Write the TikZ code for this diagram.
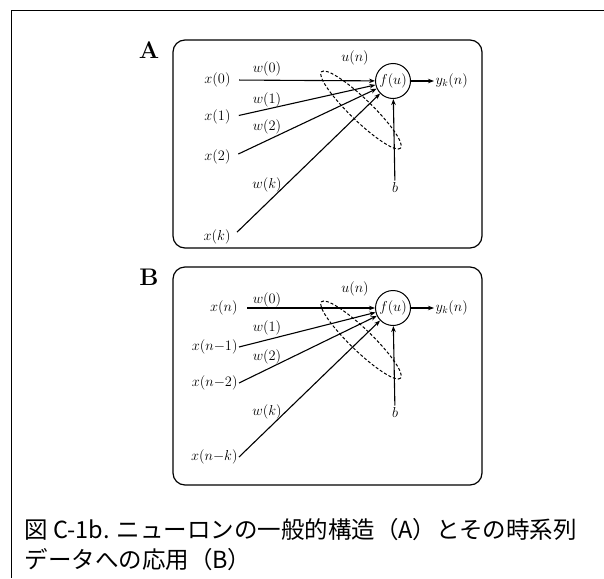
\documentclass[tikz,border=0pt]{standalone}
\usepackage{fontspec}
\newfontfamily\cjk{Noto Sans CJK JP}
\usetikzlibrary{arrows.meta}
\begin{document}
\begin{tikzpicture}[x=1pt,y=-1pt, line width=1pt,
  lbl/.style={font=\fontsize{14.5}{17}\selectfont, inner sep=1pt},
  panel/.style={draw, line width=1.2pt, rounded corners=12pt},
  arr/.style={-{Stealth[length=6pt,width=4.5pt]}, line width=1.1pt},
  neuron/.style={draw, circle, minimum size=35pt, inner sep=0pt, line width=1pt, font=\fontsize{14.5}{17}\selectfont},
  plabel/.style={font=\fontsize{24}{28}\selectfont\bfseries},
  captext/.style={anchor=west, inner sep=0pt, font=\cjk\fontsize{23.5}{28}\selectfont},
  dashloop/.style={line width=1pt, dash pattern=on 3pt off 2pt}
]
\useasboundingbox (0,0) rectangle (604,578);
\draw[line width=1pt] (604,11) -- (11,11) -- (11,578);

% ---------------- Panel A ----------------
\node[plabel] (lA) at (149,50) {A};
\draw[panel] (173,40) rectangle (482,248);
\node[neuron] (fA) at (393,81) {$f(u)$};
\node[lbl, anchor=east] (a0) at (232,80) {$x(0)$};
\node[lbl, anchor=east] (a1) at (232,117) {$x(1)$};
\node[lbl, anchor=east] (a2) at (232,157) {$x(2)$};
\node[lbl, anchor=east] (ak) at (232,237) {$x(k)$};
\node[lbl] (wa0) at (267,69) {$w(0)$};
\node[lbl] (wa1) at (267,100) {$w(1)$};
\node[lbl] (wa2) at (267,127) {$w(2)$};
\node[lbl] (wak) at (267,185) {$w(k)$};
\node[lbl] (uA) at (355,58) {$u(n)$};
\node[lbl, anchor=west] (yA) at (434,81) {$y_k(n)$};
\node[lbl] (bA) at (395,187) {$b$};
\draw[arr, shorten <=7pt] (a0.east) -- (fA);
\draw[arr, shorten <=7pt] (a1.east) -- (fA);
\draw[arr, shorten <=7pt] (a2.east) -- (fA);
\draw[arr, shorten <=7pt] (ak.east) -- (fA);
\draw[arr] (fA) -- (yA);
\draw[arr] (bA) -- (fA);
\begin{scope}[shift={(361,110)}, rotate=-44]
  \draw[dashloop] (0,0) ellipse [x radius=55, y radius=11];
\end{scope}

% ---------------- Panel B ----------------
\node[plabel] (lB) at (149,277) {B};
\draw[panel] (173,267) rectangle (482,485);
\node[neuron] (fB) at (393,308) {$f(u)$};
\node[lbl, anchor=east] (b0) at (239,308) {$x(n)$};
\node[lbl, anchor=east] (b1) at (239,347) {$x(n{-}1)$};
\node[lbl, anchor=east] (b2) at (239,383) {$x(n{-}2)$};
\node[lbl, anchor=east] (bk) at (239,457) {$x(n{-}k)$};
\node[lbl] (wb0) at (267,300) {$w(0)$};
\node[lbl] (wb1) at (267,328) {$w(1)$};
\node[lbl] (wb2) at (267,357) {$w(2)$};
\node[lbl] (wbk) at (267,412) {$w(k)$};
\node[lbl] (uB) at (355,289) {$u(n)$};
\node[lbl, anchor=west] (yB) at (434,308) {$y_k(n)$};
\node[lbl] (bB) at (395,412) {$b$};
\draw[arr, shorten <=8pt] (b0.east) -- (fB);
\draw[arr] (b1.east) -- (fB);
\draw[arr] (b2.east) -- (fB);
\draw[arr] (bk.east) -- (fB);
\draw[arr] (fB) -- (yB);
\draw[arr] (bB) -- (fB);
\begin{scope}[shift={(361,340)}, rotate=-44]
  \draw[dashloop] (0,0) ellipse [x radius=55, y radius=11];
\end{scope}

% ---------------- Caption ----------------
\node[captext] (cap1) at (24,530) {図 C-1b. ニューロンの一般的構造（A）とその時系列};
\node[captext] (cap2) at (24,560) {データへの応用（B）};
\end{tikzpicture}
\end{document}
